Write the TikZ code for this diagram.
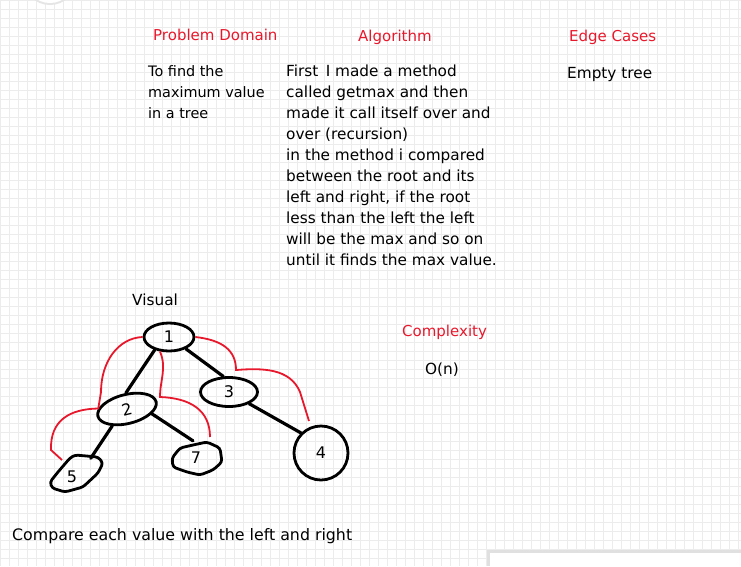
\documentclass[tikz,border=0pt]{standalone}
\usepackage{fontspec}
\setmainfont{DejaVu Sans}
\usetikzlibrary{shapes.geometric}
\definecolor{penred}{RGB}{232,24,44}
\definecolor{gridgray}{RGB}{236,236,236}

\begin{document}
\begin{tikzpicture}[x=1pt,y=-1pt,
    txt/.style={anchor=base west,inner sep=0pt,font=\fontsize{15.3}{21}\selectfont},
    para/.style={anchor=north west,inner sep=0pt,align=left,font=\fontsize{15.3}{21}\selectfont},
    head/.style={anchor=base west,inner sep=0pt,text=penred,font=\fontsize{15}{18}\selectfont},
    treenode/.style={draw,line width=2.8pt,ellipse,inner sep=0pt,font=\fontsize{16}{18}\selectfont},
    blobnode/.style={inner sep=0pt,font=\fontsize{16}{18}\selectfont},
    branch/.style={line width=3.2pt,line cap=round},
    redline/.style={draw=penred,line width=1.8pt}]
  \useasboundingbox (0,0) rectangle (741,566);
  \fill[white] (0,0) rectangle (741,566);
  % paper grid
  \draw[gridgray,line width=0.8pt] (0,0) grid[step=9pt] (741,566);
  % bits of other cards at the edges
  \fill[black!10] (50,-22) circle (27);
  \fill[white] (50,-22) circle (25);
  \fill[black!12] (487,550) rectangle (741,566);
  \fill[white] (490,553) rectangle (741,566);

  % headings
  \node[head] (hdomain) at (153,40) {Problem Domain};
  \node[head] (halgo) at (358,41) {Algorithm};
  \node[head] (hedge) at (569,41) {Edge Cases};
  \node[head] (hcomplex) at (402,336) {Complexity};

  % texts
  \node[para,font=\fontsize{14.4}{21}\selectfont] (domain) at (148,65) {To find the\\maximum value\\in a tree};
  \node[para] (algo) at (286,65) {First\, I made a method\\called getmax and then\\made it call itself over and\\over (recursion)\\in the method i compared\\between the root and its\\left and right, if the root\\less than the left the left\\will be the max and so on\\until it finds the max value.};
  \node[txt] (edge1) at (567,78) {Empty tree};
  \node[txt] (bigo) at (425,374) {O(n)};
  \node[txt] (visual) at (132,305) {Visual};
  \node[txt,font=\fontsize{15.8}{21}\selectfont] (compare) at (12,540) {Compare each value with the left and right};

  % tree
  \node[treenode,minimum width=50pt,minimum height=28pt] (n1) at (169,337) {1};
  \node[treenode,minimum width=60pt,minimum height=29pt,rotate=14] (n2) at (127,409) {2};
  \node[treenode,minimum width=57pt,minimum height=29pt] (n3) at (229,392) {3};
  \node[treenode,circle,minimum size=54pt] (n4) at (321,453) {4};
  \node[blobnode,minimum width=54pt,minimum height=37pt] (n5) at (72,477) {5};
  \node[blobnode,minimum width=50pt,minimum height=34pt] (n7) at (196,458) {7};
  \draw[line width=2.8pt,rounded corners=3pt,shift={(n5.center)}]
    (3,-22) -- (26,-20) -- (31,-14) -- (26,-4) -- (11,10) -- (-7,15)
    -- (-20,11) -- (-22,5) -- (-14,-5) -- (-2,-19) -- cycle;
  \draw[line width=2.8pt,rounded corners=3pt,shift={(n7.center)}]
    (-24,0) -- (-16,-10) -- (-3,-13) -- (11,-16) -- (24,-10) -- (26,4)
    -- (17,12) -- (4,17) -- (-9,14) -- (-23,9) -- cycle;

  \draw[branch] (n1.222) -- (n2.80);
  \draw[branch] (n1.325) -- (n3.110);
  \draw[branch] (n2.215) -- (n5.45);
  \draw[branch] (n2.335) -- (n7.100);
  \draw[branch] (n3.330) -- (n4.135);

  % red paths of the recursion
  \coordinate (c5) at (62,460);
  \coordinate (c7) at (210,437);
  \coordinate (c4) at (309,421);
  \draw[redline] (n1.west) .. controls (118,338) and (101,362) .. (101,392)
    -- (n2.165) .. controls (70,409) and (50,420) .. (51,450) -- (c5);
  \draw[redline] (n1.238) .. controls (167,368) and (160,380) .. (160,397)
    .. controls (190,398) and (210,410) .. (c7);
  \draw[redline] (n1.east) .. controls (222,340) and (236,350) .. (236,370)
    .. controls (262,368) and (290,368) .. (300,392) -- (c4);
\end{tikzpicture}
\end{document}
